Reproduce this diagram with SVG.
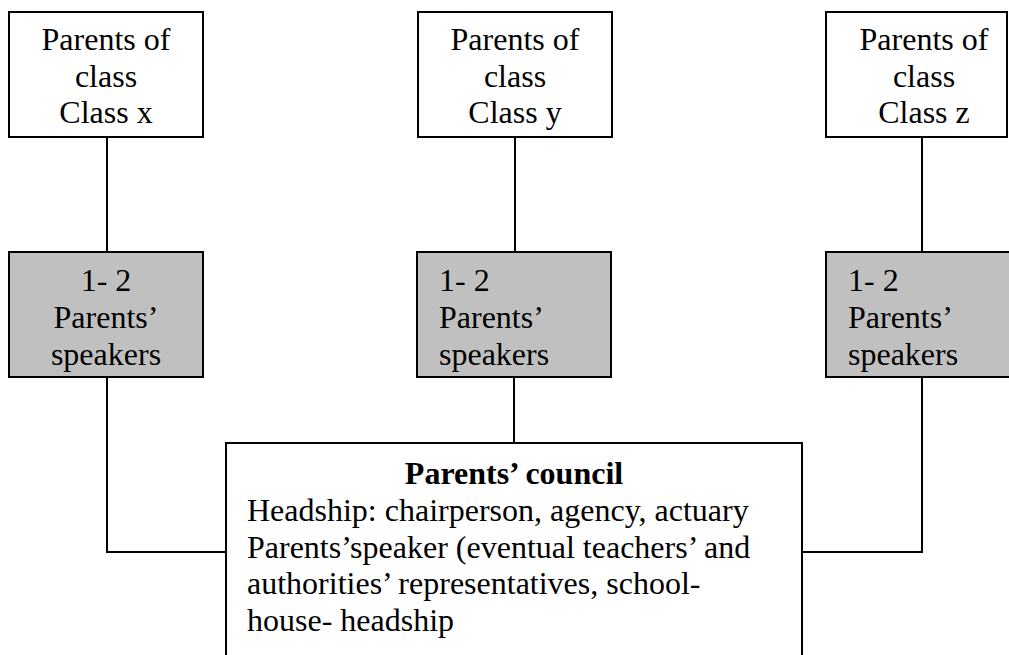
<svg xmlns="http://www.w3.org/2000/svg" width="1009" height="655" viewBox="0 0 1009 655">
  <style>
    .box { fill: #ffffff; stroke: #000000; stroke-width: 2; }
    .grey { fill: #c0c0c0; stroke: #000000; stroke-width: 2; }
    .wire { fill: none; stroke: #000000; stroke-width: 2; }
    text { font-family: "Liberation Serif", "Times New Roman", serif; font-size: 32px; fill: #000000; }
    .mid { text-anchor: middle; }
    .bold { font-weight: bold; }
  </style>
  <rect width="1009" height="655" fill="#ffffff"/>

  <!-- connectors -->
  <g id="connectors">
    <line class="wire" x1="107" y1="137" x2="107" y2="252"/>
    <line class="wire" x1="515" y1="137" x2="515" y2="252"/>
    <line class="wire" x1="922" y1="137" x2="922" y2="252"/>
    <polyline class="wire" points="107,377 107,552 226,552"/>
    <line class="wire" x1="514" y1="377" x2="514" y2="443"/>
    <polyline class="wire" points="922,377 922,552 802,552"/>
  </g>

  <!-- class parent groups -->
  <g id="class-x">
    <rect class="box" x="9" y="12" width="194" height="125"/>
    <text class="mid" x="106" y="50">Parents of</text>
    <text class="mid" x="106" y="87">class</text>
    <text class="mid" x="106" y="123">Class x</text>
  </g>
  <g id="class-y">
    <rect class="box" x="418" y="12" width="194" height="125"/>
    <text class="mid" x="515" y="50">Parents of</text>
    <text class="mid" x="515" y="87">class</text>
    <text class="mid" x="515" y="123">Class y</text>
  </g>
  <g id="class-z">
    <rect class="box" x="826" y="12" width="181" height="125"/>
    <text class="mid" x="924" y="50">Parents of</text>
    <text class="mid" x="924" y="87">class</text>
    <text class="mid" x="924" y="123">Class z</text>
  </g>

  <!-- speakers -->
  <g id="speakers-x">
    <rect class="grey" x="9" y="252" width="194" height="125"/>
    <text class="mid" x="106" y="291">1- 2</text>
    <text class="mid" x="106" y="328">Parents’</text>
    <text class="mid" x="106" y="365">speakers</text>
  </g>
  <g id="speakers-y">
    <rect class="grey" x="417" y="252" width="194" height="125"/>
    <text x="439" y="291">1- 2</text>
    <text x="439" y="328">Parents’</text>
    <text x="439" y="365">speakers</text>
  </g>
  <g id="speakers-z">
    <rect class="grey" x="826" y="252" width="200" height="125"/>
    <text x="848" y="291">1- 2</text>
    <text x="848" y="328">Parents’</text>
    <text x="848" y="365">speakers</text>
  </g>

  <!-- council -->
  <g id="council">
    <rect class="box" x="226" y="443" width="576" height="230"/>
    <text class="mid bold" x="514" y="484">Parents’ council</text>
    <text x="247" y="521">Headship: chairperson, agency, actuary</text>
    <text x="247" y="558">Parents’speaker (eventual teachers’ and</text>
    <text x="247" y="594">authorities’ representatives, school-</text>
    <text x="247" y="631">house- headship</text>
  </g>
</svg>
